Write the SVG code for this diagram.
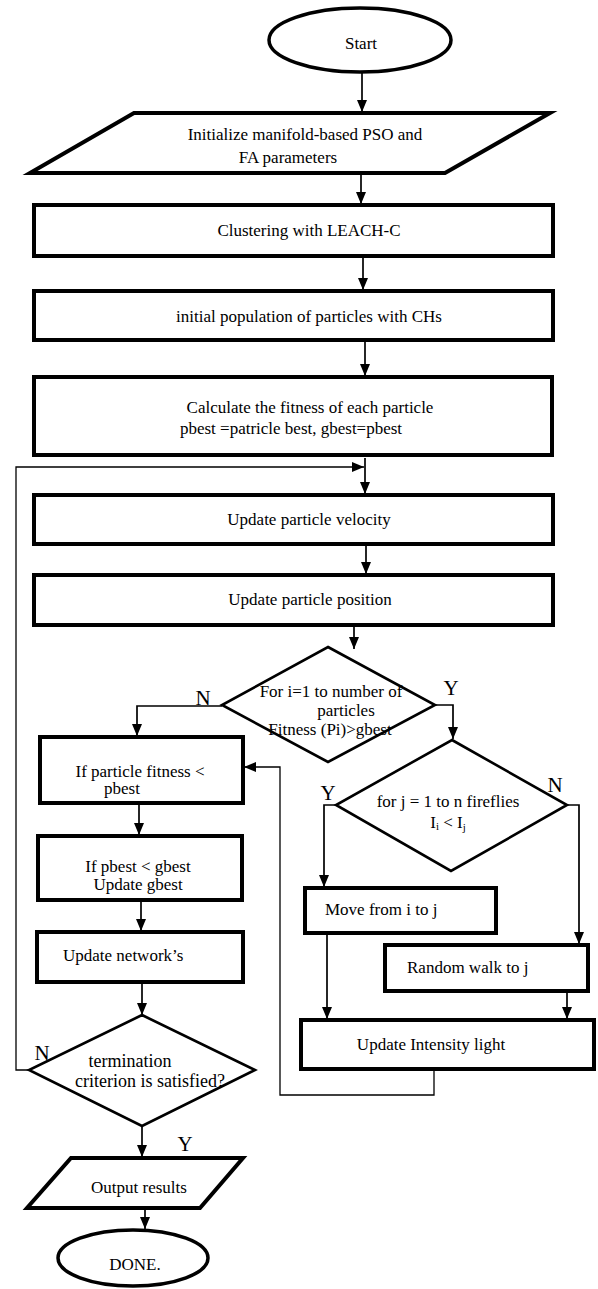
<svg xmlns="http://www.w3.org/2000/svg" width="598" height="1289" viewBox="0 0 598 1289">
<style>
.bg{fill:#ffffff}
.box{fill:#ffffff;stroke:#000000;stroke-width:4}
.dia{fill:#ffffff;stroke:#000000;stroke-width:2.6}
.ell{fill:#ffffff;stroke:#000000;stroke-width:3.5}
.con{fill:none;stroke:#000000;stroke-width:1.7}
.thin{fill:none;stroke:#000000;stroke-width:1.3}
text{font-family:"Liberation Serif","Times New Roman",serif;font-size:17px;fill:#000000}
.c{text-anchor:middle}
.lbl{font-size:21px;text-anchor:middle}
.big{font-size:18px}
</style>
<defs>
<marker id="ah" viewBox="0 0 12 10" markerWidth="12" markerHeight="10" refX="12" refY="5" orient="auto" markerUnits="userSpaceOnUse">
<path d="M0,0 L12,5 L0,10 z" fill="#000000"/>
</marker>
</defs>
<rect class="bg" x="0" y="0" width="598" height="1289"/>

<g id="connectors">
<line class="con" x1="362" y1="72" x2="362" y2="112" marker-end="url(#ah)"/>
<line class="con" x1="361" y1="173" x2="361" y2="204" marker-end="url(#ah)"/>
<line class="con" x1="363" y1="256" x2="363" y2="290" marker-end="url(#ah)"/>
<line class="con" x1="365" y1="342" x2="365" y2="376" marker-end="url(#ah)"/>
<line class="con" x1="365" y1="458" x2="365" y2="494" marker-end="url(#ah)"/>
<polyline class="thin" points="29,1070 16,1070 16,467 364,467" marker-end="url(#ah)"/>
<line class="con" x1="366" y1="546" x2="366" y2="574" marker-end="url(#ah)"/>
<line class="con" x1="354" y1="627" x2="354" y2="649" marker-end="url(#ah)"/>
<polyline class="con" points="222,706 137,706 137,736" marker-end="url(#ah)"/>
<polyline class="con" points="435,705 453,705 453,739" marker-end="url(#ah)"/>
<polyline class="con" points="336,805 324,805 324,887" marker-end="url(#ah)"/>
<polyline class="con" points="567,805 579,805 579,944" marker-end="url(#ah)"/>
<line class="con" x1="327" y1="935" x2="327" y2="1019" marker-end="url(#ah)"/>
<line class="con" x1="567" y1="993" x2="567" y2="1019" marker-end="url(#ah)"/>
<polyline class="thin" points="434,1071 434,1095 280,1095 280,767 244,767" marker-end="url(#ah)"/>
<line class="con" x1="139" y1="805" x2="139" y2="835" marker-end="url(#ah)"/>
<line class="con" x1="141" y1="902" x2="141" y2="931" marker-end="url(#ah)"/>
<line class="con" x1="142" y1="984" x2="142" y2="1015" marker-end="url(#ah)"/>
<line class="con" x1="142" y1="1126" x2="142" y2="1157" marker-end="url(#ah)"/>
<line class="con" x1="145" y1="1210" x2="145" y2="1229" marker-end="url(#ah)"/>
<text class="lbl" x="203" y="705">N</text>
<text class="lbl" x="451" y="695">Y</text>
<text class="lbl" x="328" y="800">Y</text>
<text class="lbl" x="555" y="792">N</text>
<text class="lbl" x="42" y="1060">N</text>
<text class="lbl" x="185" y="1151">Y</text>
</g>

<g id="start">
<ellipse class="ell" cx="360" cy="40" rx="91" ry="32"/>
<text class="c" x="361" y="49">Start</text>
</g>

<g id="init">
<polygon class="box" points="134,113 550,113 445,173 30,173"/>
<text class="c" x="305" y="140">Initialize manifold-based PSO and</text>
<text class="c" x="288" y="163">FA parameters</text>
</g>

<g id="clustering">
<rect class="box" x="34" y="205" width="519" height="51"/>
<text class="c" x="309" y="236">Clustering with LEACH-C</text>
</g>

<g id="population">
<rect class="box" x="34" y="291" width="519" height="49"/>
<text class="c" x="309" y="322">initial population of particles with CHs</text>
</g>

<g id="fitness">
<rect class="box" x="34" y="377" width="518" height="78"/>
<text class="c" x="310" y="413">Calculate the fitness of each particle</text>
<text class="c" x="291" y="434">pbest =patricle best, gbest=pbest</text>
</g>

<g id="velocity">
<rect class="box" x="34" y="495" width="519" height="49"/>
<text class="c" x="309" y="525">Update particle velocity</text>
</g>

<g id="position">
<rect class="box" x="34" y="575" width="519" height="50"/>
<text class="c" x="310" y="605">Update particle position</text>
</g>

<g id="decision-i">
<polygon class="dia" points="328,647 435,705 328,762 222,705"/>
<text class="c" x="331" y="697">For i=1 to number of</text>
<text class="c" x="346" y="716">particles</text>
<text class="c" x="330" y="735">Fitness (Pi)&gt;gbest</text>
</g>

<g id="pbest-check">
<rect class="box" x="40" y="737" width="203" height="66"/>
<text class="c" x="140" y="777">If particle fitness &lt;</text>
<text class="c" x="122" y="794">pbest</text>
</g>

<g id="gbest-check">
<rect class="box" x="38" y="836" width="204" height="64"/>
<text class="c" x="138" y="872">If pbest &lt; gbest</text>
<text class="c" x="138" y="890">Update gbest</text>
</g>

<g id="update-network">
<rect class="box" x="37" y="932" width="206" height="50"/>
<text x="63" y="961">Update network’s</text>
</g>

<g id="termination">
<polygon class="dia" points="142,1015 255,1070 142,1126 29,1070"/>
<text class="c big" x="130" y="1067">termination</text>
<text class="c big" x="150" y="1087">criterion is satisfied?</text>
</g>

<g id="decision-j">
<polygon class="dia" points="452,740 567,805 451,871 336,805"/>
<text class="c" x="448" y="807">for j = 1 to n fireflies</text>
<text class="c" x="448" y="828">I<tspan font-size="11" dy="2">i</tspan><tspan dy="-2"> &lt; I</tspan><tspan font-size="11" dy="3">j</tspan></text>
</g>

<g id="move">
<rect class="box" x="305" y="888" width="191" height="45"/>
<text x="325" y="915">Move from i to j</text>
</g>

<g id="random-walk">
<rect class="box" x="385" y="945" width="203" height="46"/>
<text x="407" y="973">Random walk to j</text>
</g>

<g id="intensity">
<rect class="box" x="301" y="1020" width="293" height="49"/>
<text class="c" x="431" y="1050">Update Intensity light</text>
</g>

<g id="output">
<polygon class="box" points="71,1158 243,1158 200,1208 27,1208"/>
<text class="c" x="139" y="1193">Output results</text>
</g>

<g id="done">
<ellipse class="ell" cx="133" cy="1258" rx="75" ry="28"/>
<text class="c" x="135" y="1270">DONE.</text>
</g>
</svg>
